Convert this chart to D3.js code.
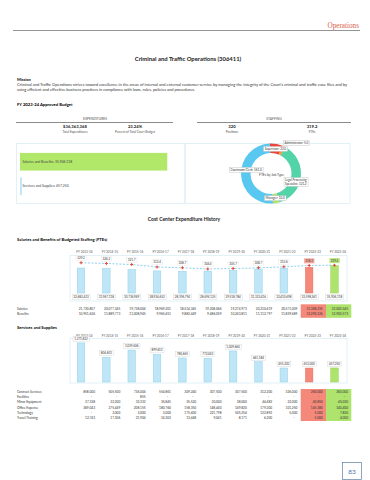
<!DOCTYPE html>
<html>
<head>
<meta charset="utf-8">
<script src="https://cdn.jsdelivr.net/npm/d3@7"></script>
<style>
body { margin: 0; background: #fff; }
svg { display: block; font-family: Lato, "Open Sans", sans-serif; }
</style>
</head>
<body>
<svg id="page" width="370" height="480"></svg>
<script>
// values
var MISSION = [
  "Criminal and Traffic Operations strives toward excellence in the areas of internal and external customer service by managing the integrity of the Court's criminal and traffic case files and by",
  "using efficient and effective business practices in compliance with laws, rules, policies and procedures."
];
var KPI_VALUES = ["$36,363,368", "23.24%", "320", "319.2"];
var KPI_LABELS = ["Total Expenditures", "Percent of Total Court Budget", "Positions", "FTEs"];

var EXP_CATS = ["Salaries and Benefits", "Services and Supplies"];
var EXP_VALUES = [35906118, 457250];

var JOB_TYPES = ["Supervisor", "Administrator", "Legal Processing Specialist", "Manager", "Courtroom Clerk"];
var JOB_FTE = [22.0, 5.0, 121.2, 10.0, 161.0];
var JOB_COLORS = ["#e8483b", "#f49a3a", "#52d3a8", "#b6e35c", "#58c8f0"];

var YEARS = ["FY 2013-14", "FY 2014-15", "FY 2015-16", "FY 2016-17", "FY 2017-18", "FY 2018-19",
  "FY 2019-20", "FY 2020-21", "FY 2021-22", "FY 2022-23", "FY 2023-24"];
var FTE = [329.2, 326.2, 321.7, 312.4, 308.7, 304.4, 305.7, 308.7, 312.6, 318.2, 319.2];
var SALARIES = [21730807, 20077345, 19728004, 18969201, 18514345, 19208066, 19274973, 20210619, 20571009, 21308235, 23002545];
var BENEFITS = [10951626, 11889773, 11008945, 9965451, 9882449, 9486059, 10243811, 11112797, 11839689, 12290126, 12903573];

var SVC_TOTAL = [1271822, 804601, 1039606, 899613, 780665, 772043, 1009660, 661184, 455230, 453000, 457250];
var SVC_ROWS = ["Contract Services", "Facilities", "Minor Equipment", "Office Expense", "Technology", "Travel/Training"];
var CONTRACT = [858000, 505500, 736004, 554861, 309240, 307500, 307500, 312200, 326000, 260000, 260000];
var FACILITIES = [0, 0, 855, 0, 0, 0, 0, 0, 0, 0, 0];
var MINOR_EQ = [37338, 22200, 33332, 35845, 35520, 30000, 38000, 44482, 22000, 40850, 45030];
var OFFICE = [369043, 275449, 208155, 180760, 158350, 148440, 149820, 179200, 101250, 145380, 140400];
var TECH = [0, 3000, 3000, 3000, 175400, 221798, 505254, 122892, 5000, 5000, 7820];
var TRAVEL = [12743, 17306, 21904, 14303, 13448, 9041, 8171, 6200, 0, 5000, 4000];

var PRIOR = "#f4887a", CURRENT = "#aee36e";

var svg = d3.select("#page");
var fmt = function(v) { return v ? d3.format(",")(v) : "-"; };

function boxLabel(g, x, y, txt, o) {
  o = o || {};
  var grp = g.append("g");
  var t = grp.append("text").attr("x", x).attr("y", y)
    .attr("text-anchor", o.anchor || "middle").attr("dominant-baseline", "central")
    .attr("font-size", o.size || 3.3).attr("fill", o.color || "#333").text(txt);
  var b = t.node().getBBox();
  grp.insert("rect", "text").attr("x", b.x - 1.2).attr("y", b.y - 0.5)
    .attr("width", b.width + 2.4).attr("height", b.height + 1)
    .attr("fill", o.fill || "#fff").attr("stroke", o.stroke || "#cfcfcf").attr("stroke-width", 0.4);
  return grp;
}

// page header
svg.append("text").attr("x", 359).attr("y", 28).attr("text-anchor", "end")
  .attr("font-family", "'Liberation Serif', serif").attr("font-size", 7.2).attr("fill", "#d9614b").text("Operations");
svg.append("line").attr("x1", 13).attr("x2", 360).attr("y1", 30.5).attr("y2", 30.5)
  .attr("stroke", "#7a7a7a").attr("stroke-width", 0.8);

svg.append("text").attr("x", 188).attr("y", 61).attr("text-anchor", "middle")
  .attr("font-weight", "bold").attr("font-size", 5.9).attr("fill", "#1a1a1a")
  .text("Criminal and Traffic Operations (306411)");

svg.append("text").attr("x", 17).attr("y", 80.5).attr("font-weight", "bold").attr("font-size", 4).text("Mission");
svg.selectAll(".mission").data(MISSION).enter().append("text")
  .attr("x", 17).attr("y", function(d, i) { return 86.3 + i * 5; })
  .attr("font-size", 3.5).attr("fill", "#333")
  .attr("textLength", function(d, i) { return i == 0 ? 330 : 178; })
  .attr("lengthAdjust", "spacingAndGlyphs")
  .text(function(d) { return d; });

svg.append("text").attr("x", 17).attr("y", 106).attr("font-weight", "bold").attr("font-size", 4.2)
  .text("FY 2023-24 Approved Budget");

// expenditures / staffing headers
[["EXPENDITURES", 95, 16, 173], ["STAFFING", 274, 197, 351]].forEach(function(h) {
  svg.append("text").attr("x", h[1]).attr("y", 120.3).attr("text-anchor", "middle")
    .attr("font-size", 3.3).attr("fill", "#555").text(h[0]);
  svg.append("line").attr("x1", h[2]).attr("x2", h[3]).attr("y1", 122.5).attr("y2", 122.5)
    .attr("stroke", "#6d6d6d").attr("stroke-width", 0.8);
});
var kpiX = [75, 135, 232, 312];
KPI_VALUES.forEach(function(v, i) {
  svg.append("text").attr("x", kpiX[i]).attr("y", 128).attr("text-anchor", "middle")
    .attr("font-weight", "bold").attr("font-size", 4.2).attr("fill", "#222").text(v);
  svg.append("text").attr("x", kpiX[i]).attr("y", 133.3).attr("text-anchor", "middle")
    .attr("font-size", 3.1).attr("fill", "#555").text(KPI_LABELS[i]);
});

svg.append("rect").attr("x", 16.5).attr("y", 143.5).attr("width", 168.5).attr("height", 60)
  .attr("fill", "none").attr("stroke", "#d6eaf4").attr("stroke-width", 0.7);
svg.append("rect").attr("x", 185).attr("y", 143.5).attr("width", 165).attr("height", 60)
  .attr("fill", "none").attr("stroke", "#d6eaf4").attr("stroke-width", 0.7);

// expenditure bars
var yExp = d3.scaleBand().domain(EXP_CATS).range([148, 200]).paddingInner(0.28).paddingOuter(0.2);
var xExp = d3.scaleLinear().domain([0, 39.5e6]).range([20, 182]);
svg.selectAll(".exp").data(EXP_CATS).enter().append("rect")
  .attr("x", xExp(0)).attr("y", function(d) { return yExp(d); })
  .attr("width", function(d, i) { return Math.max(1.2, xExp(EXP_VALUES[i]) - xExp(0)); })
  .attr("height", yExp.bandwidth())
  .attr("fill", function(d, i) { return i == 0 ? "#b2e86a" : "#bfe6f6"; });
svg.selectAll(".expt").data(EXP_CATS).enter().append("text")
  .attr("x", 22.5).attr("y", function(d) { return yExp(d) + yExp.bandwidth() / 2; })
  .attr("dominant-baseline", "central").attr("font-size", 3.4).attr("fill", "#444")
  .text(function(d, i) { return d + ": " + d3.format(",")(EXP_VALUES[i]); });

// FTEs by job type donut
var cx = 271, cy = 173.5, rOut = 30, rIn = 20.5;
var pie = d3.pie().sort(null).startAngle(-0.04).endAngle(2 * Math.PI - 0.04);
var arcs = pie(JOB_FTE);
var arc = d3.arc().innerRadius(rIn).outerRadius(rOut);
var donut = svg.append("g").attr("transform", "translate(" + cx + "," + cy + ")");
donut.selectAll("path").data(arcs).enter().append("path")
  .attr("d", arc).attr("fill", function(d, i) { return JOB_COLORS[i]; });
donut.append("text").attr("x", 0.5).attr("y", 1.8).attr("text-anchor", "middle")
  .attr("dominant-baseline", "central").attr("font-size", 3.3).attr("fill", "#444").text("FTEs by Job Type");
var labelArc = d3.arc().innerRadius(25).outerRadius(25);
var outArc = d3.arc().innerRadius(34).outerRadius(34);
arcs.forEach(function(a, i) {
  var small = a.endAngle - a.startAngle < 0.15;
  var c = small ? outArc.centroid(a) : labelArc.centroid(a);
  // keep side labels clear of the centre caption
  if (!small && c[0] < -15) c[1] -= 5;
  if (!small && c[0] > 15) c[1] += 5.5;
  var txt = JOB_TYPES[i] + ": " + d3.format(".1f")(JOB_FTE[i]);
  if (JOB_TYPES[i].length > 20) {
    var words = JOB_TYPES[i].split(" ");
    var g = donut.append("g");
    var t = g.append("text").attr("font-size", 3.0).attr("fill", "#333").attr("text-anchor", "middle");
    t.append("tspan").attr("x", c[0]).attr("y", c[1] - 0.8).text(words.slice(0, 2).join(" "));
    t.append("tspan").attr("x", c[0]).attr("y", c[1] + 3.1).text(words.slice(2).join(" ") + ": " + d3.format(".1f")(JOB_FTE[i]));
    var b = t.node().getBBox();
    g.insert("rect", "text").attr("x", b.x - 1).attr("y", b.y - 0.5).attr("width", b.width + 2).attr("height", b.height + 1)
      .attr("fill", "#fff").attr("stroke", "#bbb").attr("stroke-width", 0.4);
  } else {
    boxLabel(donut, c[0] - (small ? 1 : 0), c[1], txt,
      { size: 3.0, anchor: small ? "start" : "middle", stroke: "#bbb" });
  }
});

// cost center history
svg.append("text").attr("x", 184).attr("y", 221).attr("text-anchor", "middle")
  .attr("font-weight", "bold").attr("font-size", 5).attr("fill", "#1a1a1a").text("Cost Center Expenditure History");
svg.append("text").attr("x", 17).attr("y", 241).attr("font-weight", "bold").attr("font-size", 4.2)
  .text("Salaries and Benefits of Budgeted Staffing (FTEs)");

var x = d3.scaleBand().domain(YEARS).range([70, 345.5]).paddingInner(0.704).paddingOuter(0.286);
var bw = x.bandwidth();
var colR = function(i) { return 95 + 25.3 * i; };
var barFill = function(i) { return i == 9 ? PRIOR : i == 10 ? CURRENT : "#bfe6f6"; };
var barStroke = function(i) { return i == 9 ? "#e76f61" : i == 10 ? "#93cf55" : "#8fd0ec"; };

function yearHeader(y) {
  svg.selectAll(null).data(YEARS).enter().append("text")
    .attr("x", function(d) { return x(d) + bw / 2 + 3.5; }).attr("y", y)
    .attr("text-anchor", "middle").attr("font-size", 3.1).attr("fill", "#555")
    .text(function(d) { return d; });
}

// salaries & benefits chart
var salTotal = SALARIES.map(function(s, i) { return s + BENEFITS[i]; });
yearHeader(253);
svg.append("rect").attr("x", 70).attr("y", 255.5).attr("width", 277).attr("height", 45.5)
  .attr("fill", "none").attr("stroke", "#d6eaf4").attr("stroke-width", 0.7);
var ySal = d3.scaleLinear().domain([0, 38e6]).range([293, 264]);
svg.selectAll(".sbar").data(YEARS).enter().append("rect")
  .attr("x", function(d) { return x(d); }).attr("width", bw)
  .attr("y", function(d, i) { return ySal(salTotal[i]); })
  .attr("height", function(d, i) { return ySal(0) - ySal(salTotal[i]); })
  .attr("fill", function(d, i) { return barFill(i); })
  .attr("stroke", function(d, i) { return barStroke(i); }).attr("stroke-width", 0.5);

var yFte = d3.scaleLinear().domain([300, 340]).range([270, 260]);
var line = d3.line().x(function(d, i) { return x(YEARS[i]) + bw / 2; }).y(function(d) { return yFte(d); });
svg.append("path").datum(FTE).attr("d", line).attr("fill", "none")
  .attr("stroke", "#6cc4ea").attr("stroke-width", 0.8).attr("stroke-dasharray", "2,1.5");
svg.selectAll(".mk").data(FTE).enter().append("path")
  .attr("d", d3.symbol().type(d3.symbolCross).size(5))
  .attr("transform", function(d, i) { return "translate(" + (x(YEARS[i]) + bw / 2) + "," + yFte(d) + ")"; })
  .attr("fill", "#e2493b");
FTE.forEach(function(v, i) {
  boxLabel(svg, x(YEARS[i]) + bw / 2, yFte(v) - 4.6, d3.format(".1f")(v),
    { size: 3, fill: i == 9 ? "#f7a99c" : i == 10 ? "#b9e77f" : "#fff", stroke: i >= 9 ? "none" : "#e2e2e2" });
});
salTotal.forEach(function(v, i) {
  boxLabel(svg, x(YEARS[i]) + bw / 2, 297, fmt(v), { size: 3 });
});

// salaries table
[[9, PRIOR], [10, CURRENT]].forEach(function(c) {
  svg.append("rect").attr("x", colR(c[0]) - 22).attr("y", 304.3).attr("width", 25.3).attr("height", 13.5).attr("fill", c[1]);
});
[["Salaries", SALARIES], ["Benefits", BENEFITS]].forEach(function(r, k) {
  var yy = 308.5 + k * 5.1;
  svg.append("text").attr("x", 17).attr("y", yy).attr("dominant-baseline", "central")
    .attr("font-size", 3.2).attr("fill", "#333").text(r[0]);
  r[1].forEach(function(v, i) {
    svg.append("text").attr("x", colR(i)).attr("y", yy).attr("dominant-baseline", "central")
      .attr("text-anchor", "end").attr("font-size", 3.2).attr("fill", "#333").text(fmt(v));
  });
});

// services and supplies chart
svg.append("text").attr("x", 17).attr("y", 329).attr("font-weight", "bold").attr("font-size", 4.2)
  .text("Services and Supplies");
yearHeader(336.5);
svg.append("rect").attr("x", 70).attr("y", 338.5).attr("width", 277).attr("height", 44.5)
  .attr("fill", "none").attr("stroke", "#d6eaf4").attr("stroke-width", 0.7);
var ySvc = d3.scaleLinear().domain([0, 1.4e6]).range([382, 339]);
svg.selectAll(".vbar").data(YEARS).enter().append("rect")
  .attr("x", function(d) { return x(d); }).attr("width", bw)
  .attr("y", function(d, i) { return ySvc(SVC_TOTAL[i]); })
  .attr("height", function(d, i) { return ySvc(0) - ySvc(SVC_TOTAL[i]); })
  .attr("fill", function(d, i) { return barFill(i); })
  .attr("stroke", function(d, i) { return barStroke(i); }).attr("stroke-width", 0.5);
SVC_TOTAL.forEach(function(v, i) {
  boxLabel(svg, x(YEARS[i]) + bw / 2, ySvc(v) - 4, fmt(v), { size: 3 });
});

// services table
var svcData = [CONTRACT, FACILITIES, MINOR_EQ, OFFICE, TECH, TRAVEL];
[[9, PRIOR], [10, CURRENT]].forEach(function(c) {
  svg.append("rect").attr("x", colR(c[0]) - 22).attr("y", 389).attr("width", 25.3).attr("height", 32).attr("fill", c[1]);
});
SVC_ROWS.forEach(function(name, k) {
  var yy = 391.7 + k * 5.33;
  svg.append("text").attr("x", 17).attr("y", yy).attr("dominant-baseline", "central")
    .attr("font-size", 3.2).attr("fill", "#333").text(name);
  svcData[k].forEach(function(v, i) {
    svg.append("text").attr("x", colR(i) - (v ? 0 : 3)).attr("y", yy).attr("dominant-baseline", "central")
      .attr("text-anchor", "end").attr("font-size", 3.2).attr("fill", "#333").text(fmt(v));
  });
});

// page number
svg.append("rect").attr("x", 342.5).attr("y", 462.5).attr("width", 19).attr("height", 17)
  .attr("fill", "none").attr("stroke", "#5b7fa6").attr("stroke-width", 0.7);
svg.append("text").attr("x", 352).attr("y", 471.5).attr("text-anchor", "middle").attr("dominant-baseline", "central")
  .attr("font-size", 6.5).attr("fill", "#4d78b0").text("83");
</script>
</body>
</html>
